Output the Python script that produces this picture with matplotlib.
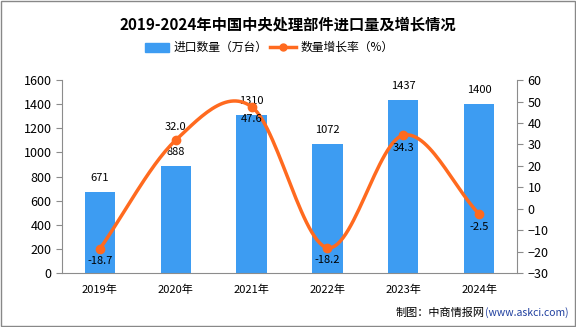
import matplotlib.pyplot as plt
import numpy as np
from matplotlib.patches import Rectangle

plt.rcParams["font.family"] = ["Noto Sans CJK SC", "DejaVu Sans"]

years = ["2019年", "2020年", "2021年", "2022年", "2023年", "2024年"]
imports = [671, 888, 1310, 1072, 1437, 1400]
growth = [-18.7, 32.0, 47.6, -18.2, 34.3, -2.5]
growth_labels = ["-18.7", "32.0", "47.6", "-18.2", "34.3", "-2.5"]
growth_pos = ["below", "above", "below", "below", "below", "below"]

bar_color = "#3D9CF2"
line_color = "#FF6A1F"
axis_color = "#8C8C8C"


def smooth(x, y, n=30, t=0.5):
    # cardinal spline through points
    x = np.asarray(x, float)
    y = np.asarray(y, float)
    px = np.concatenate([[2 * x[0] - x[1]], x, [2 * x[-1] - x[-2]]])
    py = np.concatenate([[2 * y[0] - y[1]], y, [2 * y[-1] - y[-2]]])
    xs, ys = [], []
    for i in range(1, len(px) - 2):
        m1x, m1y = t * (px[i + 1] - px[i - 1]), t * (py[i + 1] - py[i - 1])
        m2x, m2y = t * (px[i + 2] - px[i]), t * (py[i + 2] - py[i])
        s = np.linspace(0, 1, n)
        h00 = 2 * s**3 - 3 * s**2 + 1
        h10 = s**3 - 2 * s**2 + s
        h01 = -2 * s**3 + 3 * s**2
        h11 = s**3 - s**2
        xs.append(h00 * px[i] + h10 * m1x + h01 * px[i + 1] + h11 * m2x)
        ys.append(h00 * py[i] + h10 * m1y + h01 * py[i + 1] + h11 * m2y)
    return np.concatenate(xs), np.concatenate(ys)


fig = plt.figure(figsize=(5.76, 3.27), dpi=100)
ax = fig.add_axes([0.1076, 0.165, 0.79, 0.59])
x = np.arange(len(years))

ax.bar(x, imports, width=0.4, color=bar_color, zorder=2)
for xi, v in zip(x, imports):
    ax.text(xi, v + 75, str(v), ha="center", va="bottom", fontsize=8)

ax.set_xlim(-0.5, len(years) - 0.5)
ax.set_ylim(0, 1600)
ax.set_yticks(range(0, 1601, 200))
ax.set_xticks(x)
ax.set_xticklabels(years, fontsize=8)
ax.tick_params(axis="x", length=0, pad=8)
ax.tick_params(axis="y", labelsize=9, color=axis_color, length=4)
for s in ["top", "right"]:
    ax.spines[s].set_visible(False)
for s in ["left", "bottom"]:
    ax.spines[s].set_color(axis_color)

ax2 = ax.twinx()
sx, sy = smooth(x, growth)
ax2.plot(sx, sy, color=line_color, lw=2.5, zorder=3)
ax2.plot(x, growth, "o", color=line_color, ms=6, zorder=4)
for xi, v, lab, pos in zip(x, growth, growth_labels, growth_pos):
    if pos == "above":
        ax2.text(xi, v + 4, lab, ha="center", va="bottom", fontsize=8)
    else:
        ax2.text(xi, v - 3.5, lab, ha="center", va="top", fontsize=8)
ax2.set_ylim(-30, 60)
ax2.set_yticks(range(-30, 61, 10))
ax2.tick_params(axis="y", labelsize=9, color=axis_color, length=4)
for s in ["top", "left", "bottom"]:
    ax2.spines[s].set_visible(False)
ax2.spines["right"].set_color(axis_color)

fig.text(0.5, 0.925, "2019-2024年中国中央处理部件进口量及增长情况",
         ha="center", va="center", fontsize=11, fontweight="bold")

# legend
fig.patches.append(Rectangle((145 / 576, 1 - 52 / 327), 24 / 576, 9 / 327,
                             transform=fig.transFigure, color=bar_color))
fig.text(174 / 576, 1 - 47 / 327, "进口数量（万台）", ha="left", va="center", fontsize=8.5)
fig.lines.append(plt.Line2D([270 / 576, 296 / 576], [1 - 47 / 327] * 2,
                            transform=fig.transFigure, color=line_color, lw=2.5))
fig.lines.append(plt.Line2D([283 / 576], [1 - 47 / 327], marker="o", ms=5,
                            transform=fig.transFigure, color=line_color))
fig.text(301 / 576, 1 - 47 / 327, "数量增长率（%）", ha="left", va="center", fontsize=8.5)

fig.text(485 / 576, 0.043, "(www.askci.com)", ha="left", va="center", fontsize=7.5, color="#1F3F9F")
fig.text(485 / 576, 0.043, "制图：中商情报网", ha="right", va="center", fontsize=8)

fig.patches.append(Rectangle((0.001, 0.002), 0.997, 0.995, transform=fig.transFigure,
                             fill=False, edgecolor="#888888", lw=1))

fig.savefig("out.png", dpi=100)
